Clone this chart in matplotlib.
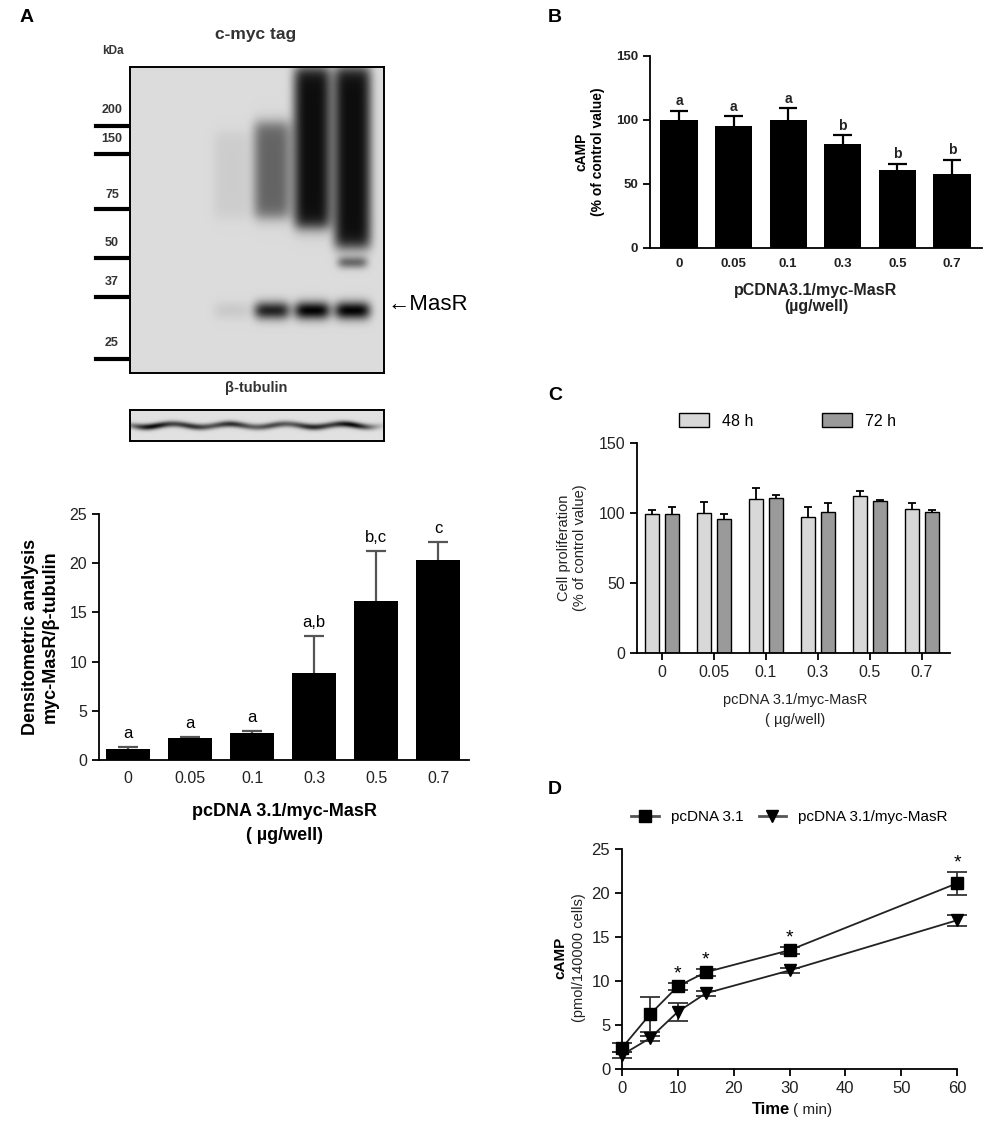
import numpy as np
import matplotlib
matplotlib.use('Agg')
from matplotlib import pyplot as plt
from matplotlib.patches import Patch
from matplotlib.lines import Line2D

plt.rcParams['font.family'] = ['Liberation Sans', 'DejaVu Sans']

# ---- data ----
doses = ['0', '0.05', '0.1', '0.3', '0.5', '0.7']

# A: densitometry
dens_mean = [1.1, 2.2, 2.7, 8.8, 16.2, 20.3]
dens_err = [0.2, 0.1, 0.25, 3.8, 5.0, 1.9]
dens_letters = ['a', 'a', 'a', 'a,b', 'b,c', 'c']

# A: blot (relative darkness per lane)
kda_marks = ['200', '150', '75', '50', '37', '25']
masr_band = [0.0, 0.0, 0.08, 0.85, 1.0, 1.0]
smear_dark = [0.0, 0.0, 0.07, 0.55, 0.95, 0.95]
smear_top = [0, 0, 65, 55, 0, 0]
smear_bottom = [0, 0, 150, 150, 160, 180]
tubulin_band = [0.9, 0.7, 0.72, 0.6, 0.75, 0.9]

# B: cAMP % control
camp_pct = [100, 95, 100, 81, 61, 58]
camp_pct_err = [7, 8, 9, 7, 5, 11]
camp_letters = ['a', 'a', 'a', 'b', 'b', 'b']

# C: cell proliferation
prolif_48 = [99, 100, 110, 97, 112, 103]
prolif_48_err = [3, 8, 8, 7, 4, 4]
prolif_72 = [99, 96, 111, 101, 108.5, 101]
prolif_72_err = [5, 3, 2, 6, 1, 1]

# D: time course
time_min = [0, 5, 10, 15, 30, 60]
camp_ctrl = [2.4, 6.2, 9.4, 11.0, 13.5, 21.1]
camp_ctrl_err = [0.5, 2.0, 0.4, 0.4, 0.4, 1.3]
camp_masr = [1.6, 3.5, 6.5, 8.6, 11.2, 16.9]
camp_masr_err = [0.3, 0.3, 1.0, 0.3, 0.3, 0.6]
star_times = [10, 15, 30, 60]

W, H = 1000, 1130
fig = plt.figure(figsize=(W / 100, H / 100), dpi=100)


def rect(x0, y0, x1, y1):
    # pixel box (top-left origin) -> figure fraction
    return [x0 / W, 1 - y1 / H, (x1 - x0) / W, (y1 - y0) / H]


def ftext(x, y, s, **kw):
    fig.text(x / W, 1 - y / H, s, **kw)


def style(ax):
    ax.spines['top'].set_visible(False)
    ax.spines['right'].set_visible(False)
    for s in ('left', 'bottom'):
        ax.spines[s].set_linewidth(1.3)
    ax.tick_params(direction='out', length=5, width=1.3)


def up_err(ax, x, mean, err, cap, color, lw):
    # one-sided error bars, drawn behind the bars
    x = np.asarray(x, float)
    top = np.asarray(mean) + np.asarray(err)
    ax.vlines(x, mean, top, color=color, lw=lw, zorder=1)
    ax.hlines(top, x - cap, x + cap, color=color, lw=lw, zorder=1)


# ---- panel labels ----
for lab, x, y in [('A', 20, 18), ('B', 548, 18), ('C', 548, 395), ('D', 548, 790)]:
    ftext(x, y, lab, fontsize=14, fontweight='bold', va='center')

# ---- A: blot ----
bw, bh = 254, 306
lane_x = np.linspace(21, 222, 6)
yy, xx = np.mgrid[0:bh, 0:bw]
dark = np.zeros((bh, bw))
for i, cx in enumerate(lane_x):
    prof = np.exp(-((xx - cx) / 19.0) ** 4)
    if smear_dark[i] > 0:
        top = 1 / (1 + np.exp(-(yy - smear_top[i]) / 4.0))
        bot = 1 / (1 + np.exp((yy - smear_bottom[i]) / 4.0))
        dark += smear_dark[i] * prof * top * bot
    if masr_band[i] > 0:
        band = np.exp(-((yy - 243) / 9.0) ** 2)
        dark += masr_band[i] * np.exp(-((xx - cx) / 18.0) ** 4) * band
# faint extra band in last lane
dark += 0.5 * np.exp(-((xx - lane_x[5]) / 15.0) ** 4) * np.exp(-((yy - 195) / 6.0) ** 2)
img = np.clip(0.86 - 0.85 * dark, 0, 1)
ax_blot = fig.add_axes(rect(130, 67, 384, 373))
ax_blot.imshow(img, cmap='gray', vmin=0, vmax=1, aspect='auto', interpolation='bilinear')
ax_blot.set_xticks([])
ax_blot.set_yticks([])
for s in ax_blot.spines.values():
    s.set_linewidth(1.4)

ftext(256, 35, 'c-myc tag', fontsize=12.5, fontweight='bold', ha='center', va='center', color='#333')
ftext(113, 51, 'kDa', fontsize=8.5, fontweight='bold', ha='center', va='center', color='#333')
mark_label_y = [110, 139, 195, 243, 282, 343]
mark_line_y = [126, 154, 209, 258, 297, 359]
for lab, ly, my in zip(kda_marks, mark_label_y, mark_line_y):
    ftext(112, ly, lab, fontsize=9, fontweight='bold', ha='center', va='center', color='#333')
    fig.add_artist(Line2D([96 / W, 127 / W], [1 - my / H, 1 - my / H], color='black', lw=3))
ftext(388, 305, '\u2190MasR', fontsize=16, ha='left', va='center')
ftext(256, 388, '\u03b2-tubulin', fontsize=10.5, fontweight='bold', ha='center', va='center', color='#333')

tw, th = 254, 31
ty, tx = np.mgrid[0:th, 0:tw]
tdark = np.zeros((th, tw))
for i, cx in enumerate(lane_x):
    prof = np.exp(-((tx - cx) / 22.0) ** 2)
    tdark += tubulin_band[i] * prof * np.exp(-((ty - 15 - 1.5 * np.sin(tx / 9.0)) / 3.2) ** 2)
timg = np.clip(0.88 - 0.9 * tdark, 0, 1)
ax_tub = fig.add_axes(rect(130, 410, 384, 441))
ax_tub.imshow(timg, cmap='gray', vmin=0, vmax=1, aspect='auto', interpolation='bilinear')
ax_tub.set_xticks([])
ax_tub.set_yticks([])
for s in ax_tub.spines.values():
    s.set_linewidth(1.4)

# ---- A: densitometry bars ----
ax = fig.add_axes(rect(99, 514, 469, 760))
xpos = np.arange(len(doses))
ax.bar(xpos, dens_mean, width=0.72, color='black', zorder=2)
up_err(ax, xpos, dens_mean, dens_err, 0.16, '#555', 1.6)
for i, lab in enumerate(dens_letters):
    ax.text(i, dens_mean[i] + dens_err[i] + 0.6, lab, ha='center', va='bottom', fontsize=12)
ax.set_xlim(-0.47, 5.5)
ax.set_ylim(0, 25)
ax.set_yticks([0, 5, 10, 15, 20, 25])
ax.set_xticks(xpos)
ax.set_xticklabels(doses)
style(ax)
ax.tick_params(axis='x', length=0, pad=8)
ax.tick_params(labelsize=11.5, labelcolor='#222')
ax.set_ylabel('Densitometric analysis\nmyc-MasR/\u03b2-tubulin', fontsize=13, fontweight='bold', labelpad=8)
ftext(284, 811, 'pcDNA 3.1/myc-MasR', fontsize=13, fontweight='bold', ha='center', va='center')
ftext(284, 836, '( \u00b5g/well)', fontsize=13, fontweight='bold', ha='center', va='center')

# ---- B ----
ax = fig.add_axes(rect(650, 56, 982, 248))
ax.bar(xpos, camp_pct, width=0.68, color='black', zorder=2)
up_err(ax, xpos, camp_pct, camp_pct_err, 0.17, 'black', 1.6)
for i, lab in enumerate(camp_letters):
    ax.text(i, camp_pct[i] + camp_pct_err[i] + 2, lab, ha='center', va='bottom', fontsize=10, fontweight='bold', color='#222')
ax.set_xlim(-0.53, 5.55)
ax.set_ylim(0, 150)
ax.set_yticks([0, 50, 100, 150])
ax.set_xticks(xpos)
ax.set_xticklabels(doses)
style(ax)
ax.tick_params(axis='x', length=0, pad=7)
ax.tick_params(labelsize=9.5, labelcolor='#222')
for t in ax.get_xticklabels() + ax.get_yticklabels():
    t.set_fontweight('bold')
ax.set_ylabel('cAMP\n(% of control value)', fontsize=10, fontweight='bold', labelpad=8)
ftext(816, 290, 'pCDNA3.1/myc-MasR', fontsize=11.5, fontweight='bold', ha='center', va='center', color='#222')
ftext(816, 307, '(\u00b5g/well)', fontsize=11.5, fontweight='bold', ha='center', va='center', color='#222')

# ---- C ----
ax = fig.add_axes(rect(637, 443, 950, 653))
c48, c72 = '#d8d8d8', '#9a9a9a'
ax.bar(xpos - 0.19, prolif_48, width=0.27, color=c48, edgecolor='black', linewidth=1, zorder=2)
ax.bar(xpos + 0.19, prolif_72, width=0.27, color=c72, edgecolor='black', linewidth=1, zorder=2)
up_err(ax, xpos - 0.19, prolif_48, prolif_48_err, 0.08, 'black', 1.3)
up_err(ax, xpos + 0.19, prolif_72, prolif_72_err, 0.08, 'black', 1.3)
ax.set_xlim(-0.48, 5.54)
ax.set_ylim(0, 150)
ax.set_yticks([0, 50, 100, 150])
ax.set_xticks(xpos)
ax.set_xticklabels(doses)
style(ax)
ax.tick_params(labelsize=11.5, labelcolor='#222')
ax.set_ylabel('Cell proliferation\n(% of control value)', fontsize=10.5, labelpad=8, color='#222')
ax.legend(handles=[Patch(facecolor=c48, edgecolor='black', label='48 h'),
                   Patch(facecolor=c72, edgecolor='black', label='72 h')],
          loc='lower center', bbox_to_anchor=(0.48, 1.0), ncol=2, frameon=False,
          fontsize=11.5, handlelength=1.9, handleheight=1.0, columnspacing=4.3)
ftext(795, 700, 'pcDNA 3.1/myc-MasR', fontsize=10.5, ha='center', va='center', color='#222')
ftext(795, 720, '( \u00b5g/well)', fontsize=10.5, ha='center', va='center', color='#222')

# ---- D ----
ax = fig.add_axes(rect(622, 849, 957, 1069))
ax.errorbar(time_min, camp_ctrl, yerr=camp_ctrl_err, color='#222', lw=1.3, marker='s',
            ms=9, mfc='black', mec='black', ecolor='#333', elinewidth=1.3, capsize=7,
            capthick=1.3, clip_on=False, zorder=3)
ax.errorbar(time_min, camp_masr, yerr=camp_masr_err, color='#222', lw=1.3, marker='v',
            ms=9, mfc='black', mec='black', ecolor='#333', elinewidth=1.3, capsize=7,
            capthick=1.3, clip_on=False, zorder=3)
for t in star_times:
    i = time_min.index(t)
    ax.text(t, camp_ctrl[i] + camp_ctrl_err[i] + 1.0, '*', ha='center', va='center', fontsize=14)
ax.set_xlim(0, 60)
ax.set_ylim(0, 25)
ax.set_xticks([0, 10, 20, 30, 40, 50, 60])
ax.set_yticks([0, 5, 10, 15, 20, 25])
style(ax)
ax.tick_params(labelsize=12, labelcolor='#222')
ax.legend(handles=[Line2D([], [], color='#555', lw=2, marker='s', ms=9, mfc='black', mec='black', label='pcDNA 3.1'),
                   Line2D([], [], color='#555', lw=2, marker='v', ms=9, mfc='black', mec='black', label='pcDNA 3.1/myc-MasR')],
          loc='lower center', bbox_to_anchor=(0.5, 1.05), ncol=2, frameon=False,
          fontsize=11, handlelength=1.8, columnspacing=1.0, handletextpad=0.8)
ftext(560, 958, 'cAMP', fontsize=11, fontweight='bold', rotation=90, ha='center', va='center')
ftext(579, 958, '(pmol/140000 cells)', fontsize=10.5, rotation=90, ha='center', va='center', color='#222')
ftext(790, 1110, 'Time', fontsize=12, fontweight='bold', ha='right', va='center')
ftext(793, 1110, '( min)', fontsize=11, ha='left', va='center', color='#222')

fig.savefig('out.png', dpi=100)
